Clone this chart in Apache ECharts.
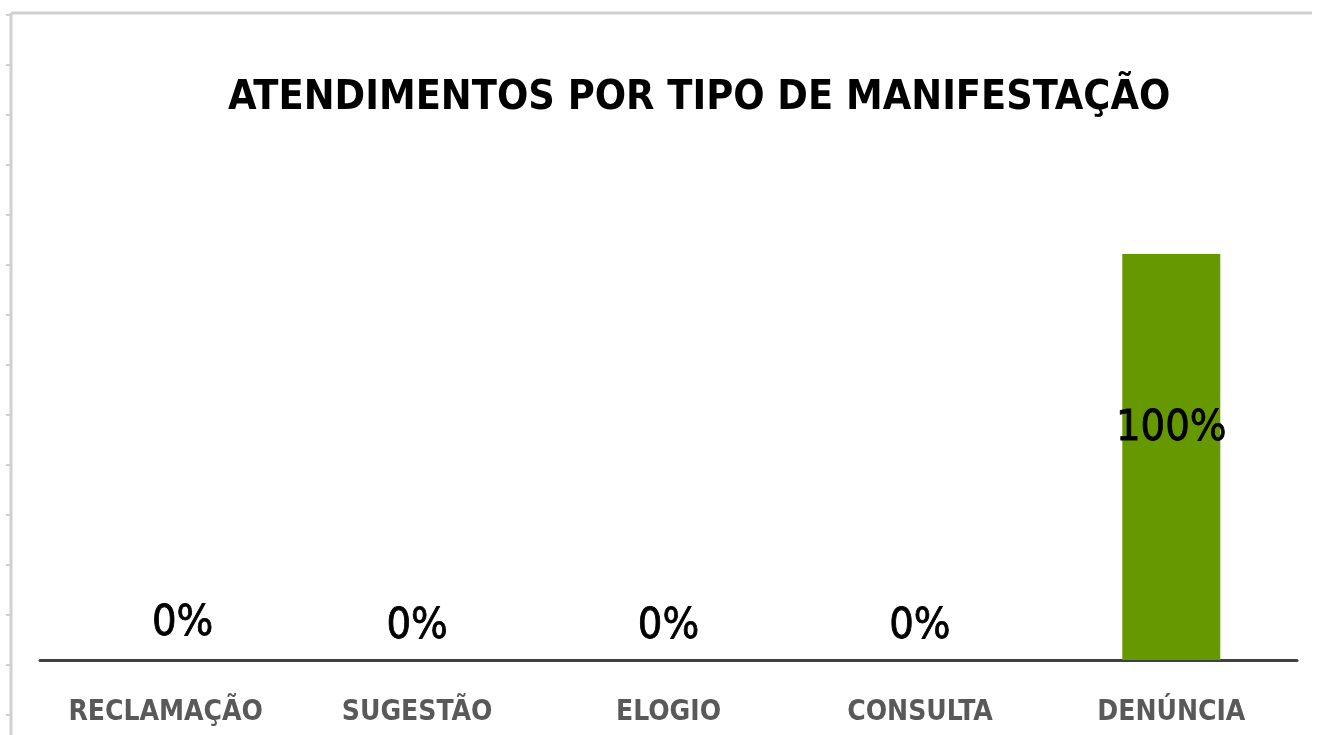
<!DOCTYPE html>
<html><head><meta charset="utf-8">
<script src="https://cdn.jsdelivr.net/npm/echarts@6/dist/echarts.min.js"></script>
<style>html,body{margin:0;padding:0;background:#fff}#c{width:1319px;height:735px}</style>
</head><body><div id="c"></div>
<script>
const titleText = 'ATENDIMENTOS POR TIPO DE MANIFESTAÇÃO';
const categories = ['RECLAMAÇÃO', 'SUGESTÃO', 'ELOGIO', 'CONSULTA', 'DENÚNCIA'];
const values = [0, 0, 0, 0, 100];
const frameTicks = [0,1,2,3,4,5,6,7,8,9,10,11,12,13,14];

const narrow = "'Liberation Sans Narrow', 'DejaVu Sans Condensed', sans-serif";
const chart = echarts.init(document.getElementById('c'), null, {renderer: 'canvas'});

const barData = values.map((v, i) => {
  if (v >= 100) return {value: v, label: {position: 'inside', offset: [0, -28]}};
  if (i === 0) return {value: v, label: {offset: [17, -3]}};
  return {value: v};
});

chart.setOption({
  backgroundColor: '#ffffff',
  animation: false,
  title: {
    text: titleText, left: 223, top: 73,
    textStyle: {fontFamily: narrow, fontWeight: 'bold', fontSize: 41, color: '#000000'}
  },
  graphic: [
    {type: 'line', shape: {x1: 11, y1: 13, x2: 1312, y2: 13}, style: {stroke: '#d0d0d0', lineWidth: 3}},
    {type: 'line', shape: {x1: 11, y1: 13, x2: 11, y2: 735}, style: {stroke: '#d0d0d0', lineWidth: 3}}
  ],
  grid: [
    {left: 40, right: 22, top: 254, bottom: 75},
    {left: 11, width: 10, top: 15, bottom: 20}
  ],
  xAxis: [
    {
      type: 'category', data: categories, gridIndex: 0,
      axisLine: {lineStyle: {color: '#404040', width: 3}},
      axisTick: {show: false},
      axisLabel: {interval: 0, fontFamily: narrow, fontWeight: 'bold', fontSize: 28, color: '#595959', margin: 39}
    },
    {type: 'value', gridIndex: 1, show: false}
  ],
  yAxis: [
    {type: 'value', gridIndex: 0, min: 0, max: 100, show: false},
    {
      type: 'value', gridIndex: 1, min: 0, max: 14, interval: 1,
      axisLine: {show: false},
      axisTick: {show: true, length: 5, lineStyle: {color: '#d0d0d0', width: 2}},
      axisLabel: {show: false}, splitLine: {show: false}
    }
  ],
  series: [
    {
      type: 'bar', data: barData, xAxisIndex: 0, yAxisIndex: 0,
      barWidth: 98,
      itemStyle: {color: '#669900'},
      label: {
        show: true, fontFamily: narrow, fontSize: 43, color: '#000000',
        textBorderColor: '#000000', textBorderWidth: 0.8,
        formatter: p => p.value + '%',
        position: 'top', distance: 12
      }
    },
    {
      type: 'scatter', xAxisIndex: 1, yAxisIndex: 1, data: frameTicks.map(t => [0, t]),
      symbolSize: 0, silent: true
    }
  ]
});
</script>
</body></html>
